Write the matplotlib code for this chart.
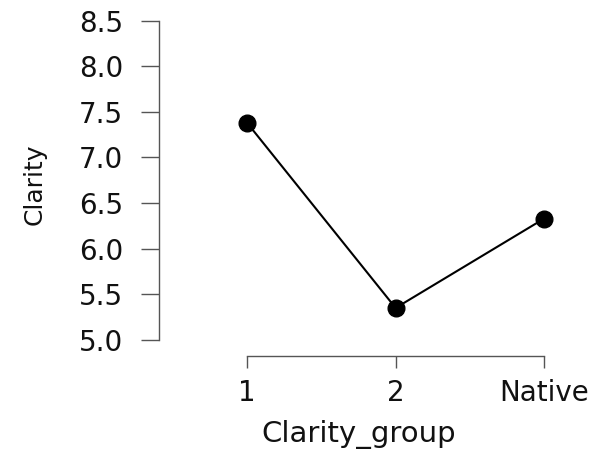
import matplotlib
matplotlib.use("Agg")
import matplotlib.pyplot as plt

categories = ["1", "2", "Native"]
values = [7.38, 5.35, 6.33]
yticks = [5.0, 5.5, 6.0, 6.5, 7.0, 7.5, 8.0, 8.5]

fig = plt.figure(figsize=(5.97, 4.5), dpi=100)
ax = fig.add_axes([159/597, (450-356)/450, (559-159)/597, (356-11.6)/450])

x = list(range(len(categories)))
ax.plot(x, values, color="black", lw=1.5, marker="o", markersize=12, zorder=3)

ax.set_xlim(-0.593, 2.1)
ax.set_ylim(4.823, 8.6)
ax.set_yticks(yticks)
ax.set_yticklabels([f"{v:.1f}" for v in yticks])
ax.set_xticks(x)
ax.set_xticklabels(categories)

for s in ["top", "right"]:
    ax.spines[s].set_visible(False)
ax.spines["left"].set_bounds(5.0, 8.5)
ax.spines["bottom"].set_bounds(0, 2)
for s in ["left", "bottom"]:
    ax.spines[s].set_color("#555555")
    ax.spines[s].set_linewidth(1.0)

ax.tick_params(axis="y", length=13, width=1.0, color="#555555", pad=13,
               labelsize=20, labelcolor="#111111")
ax.tick_params(axis="x", length=8.6, width=1.0, color="#555555", pad=8,
               labelsize=20, labelcolor="#111111")

ax.set_ylabel("Clarity", fontsize=18, color="#111111", labelpad=23)
ax.set_xlabel("Clarity_group", fontsize=21, color="#111111", labelpad=9)

fig.savefig("out.png", dpi=100)
